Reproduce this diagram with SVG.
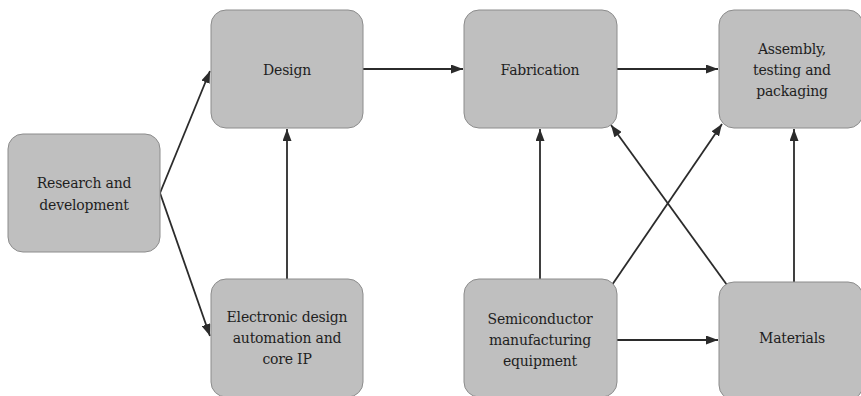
<svg xmlns="http://www.w3.org/2000/svg" width="861" height="396" viewBox="0 0 861 396">
  <style>
    .box { fill: #bfbfbf; stroke: #8c8c8c; stroke-width: 1; }
    .lbl { font-family: 'DejaVu Serif', serif; font-size: 14px; letter-spacing: -0.2px; fill: #1e1e1e; text-anchor: middle; }
    .edge { stroke: #2b2b2b; stroke-width: 1.8; fill: none; marker-end: url(#arrow); }
  </style>
  <defs>
    <marker id="arrow" viewBox="0 0 12 9" refX="12" refY="4.5" markerWidth="12" markerHeight="9" markerUnits="userSpaceOnUse" orient="auto">
      <path d="M0,0 L12,4.5 L0,9 z" fill="#2b2b2b"/>
    </marker>
  </defs>
  <rect width="861" height="396" fill="#ffffff"/>

  <!-- arrows between stages -->
  <g id="connectors">
    <line class="edge" x1="160" y1="193" x2="210" y2="71"/>
    <line class="edge" x1="160" y1="193" x2="210" y2="336"/>
    <line class="edge" x1="363" y1="69" x2="463" y2="69"/>
    <line class="edge" x1="617" y1="69" x2="718" y2="69"/>
    <line class="edge" x1="287" y1="279" x2="287" y2="129"/>
    <line class="edge" x1="540" y1="279" x2="540" y2="129"/>
    <line class="edge" x1="612" y1="285" x2="722" y2="124"/>
    <line class="edge" x1="727" y1="285" x2="611" y2="125"/>
    <line class="edge" x1="617" y1="340" x2="718" y2="340"/>
    <line class="edge" x1="794" y1="282" x2="794" y2="129"/>
  </g>

  <g id="research">
    <rect class="box" x="8" y="134" width="152" height="118" rx="15"/>
    <text class="lbl" x="84" y="188">Research and</text>
    <text class="lbl" x="84" y="210">development</text>
  </g>
  <g id="design">
    <rect class="box" x="211" y="10" width="152" height="118" rx="15"/>
    <text class="lbl" x="287" y="75">Design</text>
  </g>
  <g id="fabrication">
    <rect class="box" x="464" y="10" width="153" height="118" rx="15"/>
    <text class="lbl" x="540" y="75">Fabrication</text>
  </g>
  <g id="assembly">
    <rect class="box" x="719" y="10" width="144" height="118" rx="15"/>
    <text class="lbl" x="792" y="54">Assembly,</text>
    <text class="lbl" x="792" y="75">testing and</text>
    <text class="lbl" x="792" y="96">packaging</text>
  </g>
  <g id="eda">
    <rect class="box" x="211" y="279" width="152" height="118" rx="15"/>
    <text class="lbl" x="287" y="322">Electronic design</text>
    <text class="lbl" x="287" y="343">automation and</text>
    <text class="lbl" x="287" y="364">core IP</text>
  </g>
  <g id="equipment">
    <rect class="box" x="464" y="279" width="153" height="118" rx="15"/>
    <text class="lbl" x="540" y="324">Semiconductor</text>
    <text class="lbl" x="540" y="345">manufacturing</text>
    <text class="lbl" x="540" y="366">equipment</text>
  </g>
  <g id="materials">
    <rect class="box" x="719" y="282" width="144" height="118" rx="15"/>
    <text class="lbl" x="792" y="343">Materials</text>
  </g>
</svg>
